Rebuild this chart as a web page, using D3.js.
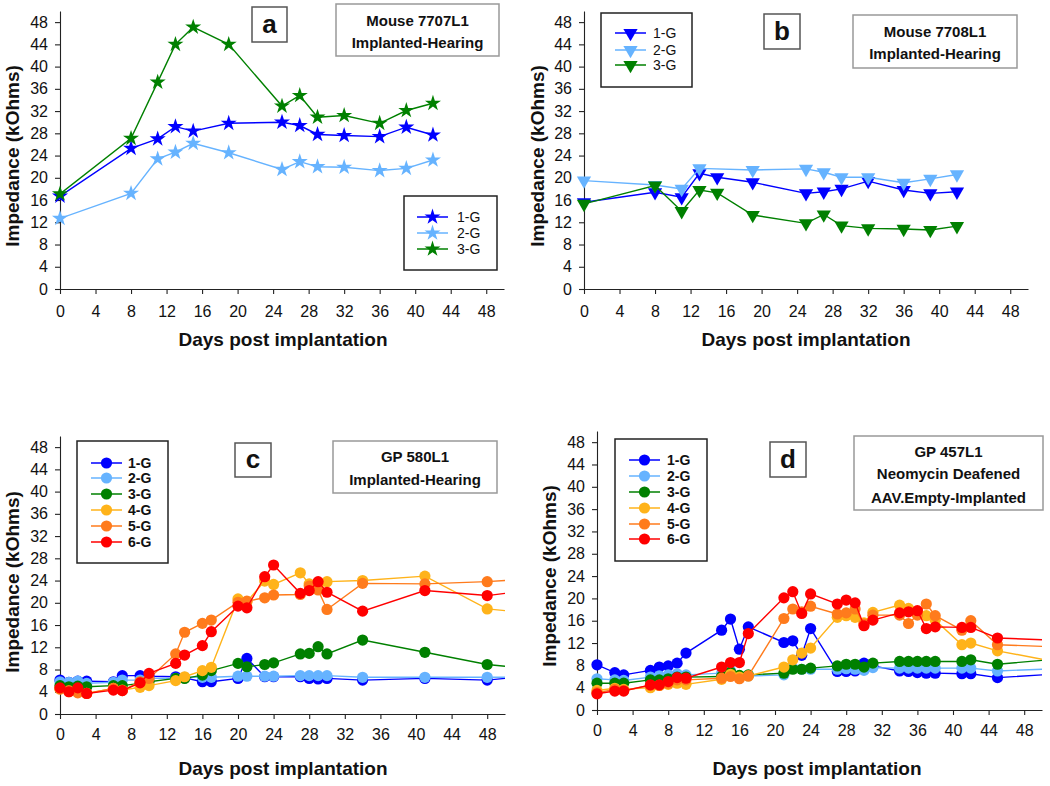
<!DOCTYPE html>
<html><head><meta charset="utf-8">
<script src="https://cdn.jsdelivr.net/npm/d3@7"></script>
<style>
body{margin:0;background:#fff}
svg{display:block;font-family:"Liberation Sans",Arial,sans-serif}
</style>
</head><body>
<svg id="chart" width="1050" height="786"></svg>
<script>
// ---------- data ----------
const seriesNames = ["1-G","2-G","3-G","4-G","5-G","6-G"];
const seriesColors = ["#0000ff","#66b3ff","#008000","#ffb31a","#ff7b1c","#ff0000"];
const xTicks = [0,4,8,12,16,20,24,28,32,36,40,44,48];
const yTicks = [0,4,8,12,16,20,24,28,32,36,40,44,48];
const xTitle = "Days post implantation";
const yTitle = "Impedance (kOhms)";

// Panel a: Mouse 7707L1
const daysA = [0,8,11,13,15,19,25,27,29,32,36,39,42];
const a1G = [16.7,25.3,27.0,29.2,28.4,29.8,30.0,29.4,27.8,27.6,27.4,29.1,27.7];
const a2G = [12.7,17.2,23.4,24.6,26.2,24.5,21.5,22.9,22.0,21.9,21.3,21.7,23.2];
const a3G = [17.1,27.1,37.2,44.0,47.1,44.0,32.9,34.8,30.9,31.2,29.8,32.1,33.4];

// Panel b: Mouse 7708L1
const daysB = [0,8,11,13,15,19,25,27,29,32,36,39,42];
const b1G = [15.6,17.4,16.5,20.8,20.1,19.2,17.2,17.5,18.0,19.4,17.8,17.2,17.5];
const b2G = [19.5,18.7,18.0,21.7,null,21.4,21.6,21.0,20.1,20.1,19.1,19.8,20.6];
const b3G = [15.3,18.6,14.0,17.8,17.3,13.3,11.8,13.4,11.4,10.9,10.8,10.6,11.3];

// Panel c: GP 580L1
const daysC = [0,1,2,3,6,7,9,10,13,14,16,17,20,21,23,24,27,28,29,30,34,41,48];
const c1G = [6.1,5.7,5.9,5.9,5.8,6.9,6.9,6.8,6.7,6.5,5.8,5.8,6.4,10.0,6.7,6.7,6.7,6.4,6.3,6.4,6.1,6.4,6.1];
const c2G = [5.8,5.7,5.9,5.5,5.7,6.1,6.1,6.4,6.4,6.6,6.6,6.6,6.8,6.8,6.8,6.8,6.9,6.9,6.9,6.9,6.6,6.6,6.6];
const c3G = [5.1,4.9,5.0,4.9,5.1,5.1,5.5,5.8,6.4,6.4,7.0,7.8,9.1,8.5,8.9,9.2,10.8,10.9,12.1,10.8,13.3,11.1,8.9];
const c4G = [4.5,4.0,4.0,3.7,4.6,4.3,4.8,5.1,6.0,6.7,7.8,8.4,20.7,20.2,23.9,23.3,25.4,23.4,22.8,23.8,24.0,24.8,18.9];
const c5G = [4.5,4.2,3.8,3.7,4.6,4.2,5.8,6.4,10.8,14.7,16.3,16.9,20.1,20.3,20.9,21.4,21.5,23.0,22.3,18.8,23.5,23.4,23.8];
const c6G = [4.7,4.0,4.7,3.7,4.3,4.2,5.6,7.3,9.1,10.6,12.3,14.8,19.4,19.1,24.7,26.8,21.7,22.2,23.8,21.9,18.5,22.2,21.3];
const cEdge = [6.4,6.6,8.6,18.6,24.0,21.7]; // where each line leaves the plot at day 50

// Panel d: GP 457L1
const daysD = [0,2,3,6,7,8,9,10,14,15,16,17,21,22,23,24,27,28,29,30,31,34,35,36,37,38,41,42,45];
const d1G = [8.1,6.7,6.3,7.1,7.7,7.9,8.4,10.2,14.3,16.3,10.9,14.9,12.1,12.4,9.8,14.6,6.9,6.9,7.0,8.4,7.9,7.0,6.9,6.7,6.6,6.6,6.5,6.5,5.8];
const d2G = [5.6,5.4,5.3,5.9,6.1,6.3,6.5,6.3,6.6,7.1,6.1,6.1,6.3,7.5,7.3,7.3,7.3,7.4,7.3,7.1,7.6,7.5,7.5,7.5,7.5,7.5,7.5,7.5,7.0];
const d3G = [4.8,4.8,4.8,5.4,5.4,5.6,5.9,5.9,6.0,6.8,6.2,6.3,6.6,7.3,7.3,7.5,7.9,8.2,8.2,7.7,8.4,8.7,8.7,8.7,8.7,8.7,8.7,9.0,8.2];
const d4G = [3.5,3.9,3.7,4.0,4.4,4.6,4.8,4.6,5.5,6.4,5.9,6.1,7.7,9.0,10.2,11.1,16.6,16.9,16.6,15.6,17.5,18.8,18.2,17.3,16.9,16.1,11.7,12.0,10.6];
const d5G = [3.1,3.7,3.5,4.4,4.4,4.8,5.4,5.4,5.7,6.0,5.6,6.1,16.4,18.1,17.6,18.6,17.2,17.4,18.1,15.4,17.0,17.0,15.5,17.0,19.0,16.9,14.3,16.0,11.7];
const d6G = [2.9,3.4,3.4,4.5,4.5,5.1,5.8,5.7,7.7,8.5,8.5,13.7,20.1,21.2,17.3,20.8,19.0,19.7,19.2,15.1,16.1,17.4,17.6,17.8,14.6,14.9,14.8,14.8,12.9];
const dEdge = [6.3,7.3,8.9,9.1,11.4,12.6];

// ---------- layout ----------
const panels = [
  {key:"a", x0:60, x1:504, yb:289, yt:11, xpad:12, days:daysA, series:[a1G,a2G,a3G], edge:null, marker:"star",
   letter:{x:252,y:7,w:35,h:35}, title:{x:336,y:4,w:163,h:52,lines:["Mouse 7707L1","Implanted-Hearing"],ly:[21,43]},
   legend:{x:404,y:196,w:93,h:74,rowY:[217,233,249],lx:417,tx:457,bold:false},
   xTitleX:283, xTitleY:346, yTitleX:19, yTitleY:156},
  {key:"b", x0:584, x1:1028, yb:289, yt:11, xpad:12, days:daysB, series:[b1G,b2G,b3G], edge:null, marker:"tri",
   letter:{x:764,y:14,w:36,h:35}, title:{x:853,y:15,w:164,h:53,lines:["Mouse 7708L1","Implanted-Hearing"],ly:[32,54]},
   legend:{x:601,y:13,w:91,h:74,rowY:[33,50,65],lx:615,tx:653,bold:false},
   xTitleX:806, xTitleY:346, yTitleX:544, yTitleY:156},
  {key:"c", x0:60, x1:505, yb:714, yt:436, xpad:10, days:daysC, series:[c1G,c2G,c3G,c4G,c5G,c6G], edge:cEdge, marker:"circle",
   letter:{x:235,y:443,w:36,h:34}, title:{x:333,y:441,w:164,h:52,lines:["GP 580L1","Implanted-Hearing"],ly:[457,480]},
   legend:{x:77,y:441,w:91,h:122,rowY:[463,478,494,510,526,542],lx:91,tx:128,bold:true},
   xTitleX:283, xTitleY:775, yTitleX:19, yTitleY:582},
  {key:"d", x0:597, x1:1042, yb:710, yt:431, xpad:10, days:daysD, series:[d1G,d2G,d3G,d4G,d5G,d6G], edge:dEdge, marker:"circle",
   letter:{x:770,y:442,w:36,h:35}, title:{x:854,y:436,w:189,h:74,lines:["GP 457L1","Neomycin Deafened","AAV.Empty-Implanted"],ly:[452,474,498]},
   legend:{x:615,y:439,w:92,h:122,rowY:[460,476,492,508,524,539],lx:629,tx:667,bold:true},
   xTitleX:817, xTitleY:775, yTitleX:556, yTitleY:576}
];

const svg = d3.select("#chart");

function markerPath(kind){
  if(kind==="star") return d3.symbol(d3.symbolStar, 80)();
  if(kind==="tri") return d3.symbol(d3.symbolTriangle, 88)();
  return d3.symbol(d3.symbolCircle, Math.PI*5.6*5.6)();
}
function markerTransform(kind, px, py){
  return kind==="tri" ? `translate(${px},${py}) rotate(180)` : `translate(${px},${py})`;
}

panels.forEach((p, pi) => {
  const g = svg.append("g");
  const x = d3.scaleLinear().domain([0,50]).range([p.x0,p.x1]);
  const y = d3.scaleLinear().domain([0,50]).range([p.yb,p.yt]);

  // axes
  const gx = g.append("g").attr("transform",`translate(0,${p.yb})`)
    .call(d3.axisBottom(x).tickValues(xTicks).tickSize(5).tickSizeOuter(0).tickPadding(p.xpad));
  const gy = g.append("g").attr("transform",`translate(${p.x0},0)`)
    .call(d3.axisLeft(y).tickValues(yTicks).tickSize(5).tickSizeOuter(0).tickPadding(7));
  [gx,gy].forEach(ax => {
    ax.attr("font-family",null).attr("font-size",null);
    ax.selectAll("text").attr("font-size","16px").attr("fill","#111");
    ax.selectAll("path,line").attr("stroke","#222").attr("stroke-width",1.1);
  });

  // titles
  g.append("text").attr("x",p.xTitleX).attr("y",p.xTitleY).attr("text-anchor","middle")
    .attr("font-size","19px").attr("font-weight","bold").attr("fill","#111").text(xTitle);
  g.append("text").attr("transform",`translate(${p.yTitleX},${p.yTitleY}) rotate(-90)`).attr("text-anchor","middle")
    .attr("font-size","19px").attr("font-weight","bold").attr("fill","#111").text(yTitle);

  // clip
  const cid = "clip"+p.key;
  svg.append("clipPath").attr("id",cid).append("rect")
    .attr("x",p.x0).attr("y",p.yt-10).attr("width",p.x1-p.x0).attr("height",p.yb-p.yt+10);

  const line = d3.line().x(d=>x(d.d)).y(d=>y(d.v));
  const plot = g.append("g");
  p.series.forEach((vals,i) => {
    const pts = p.days.map((d,j)=>({d, v: vals[j]})).filter(o => o.v !== null);
    const lpts = p.edge ? pts.concat([{d:50, v:p.edge[i]}]) : pts;
    plot.append("path").datum(lpts).attr("d",line).attr("fill","none")
      .attr("stroke",seriesColors[i]).attr("stroke-width",1.4).attr("clip-path",`url(#${cid})`);
    plot.append("g").selectAll("path").data(pts).join("path")
      .attr("d",markerPath(p.marker))
      .attr("transform",d=>markerTransform(p.marker,x(d.d),y(d.v)))
      .attr("fill",seriesColors[i]);
  });

  // letter box
  g.append("rect").attr("x",p.letter.x).attr("y",p.letter.y).attr("width",p.letter.w).attr("height",p.letter.h)
    .attr("fill","#fff").attr("stroke","#555").attr("stroke-width",1.5);
  g.append("text").attr("x",p.letter.x+p.letter.w/2).attr("y",p.letter.y+p.letter.h/2+8)
    .attr("text-anchor","middle").attr("font-size","26px").attr("font-weight","bold").attr("fill","#111").text(p.key);

  // title box
  g.append("rect").attr("x",p.title.x).attr("y",p.title.y).attr("width",p.title.w).attr("height",p.title.h)
    .attr("fill","#fff").attr("stroke","#999").attr("stroke-width",1.5);
  p.title.lines.forEach((t,k)=>{
    g.append("text").attr("x",p.title.x+p.title.w/2).attr("y",p.title.ly[k]+5)
      .attr("text-anchor","middle").attr("font-size","15px").attr("font-weight","bold").attr("fill","#111").text(t);
  });

  // legend
  const L = p.legend;
  g.append("rect").attr("x",L.x).attr("y",L.y).attr("width",L.w).attr("height",L.h)
    .attr("fill","#fff").attr("stroke","#222").attr("stroke-width",1.5);
  p.series.forEach((vals,i)=>{
    const ry = L.rowY[i];
    g.append("line").attr("x1",L.lx).attr("x2",L.lx+31).attr("y1",ry).attr("y2",ry)
      .attr("stroke",seriesColors[i]).attr("stroke-width",1.5);
    g.append("path").attr("d",markerPath(p.marker)).attr("transform",markerTransform(p.marker,L.lx+15.5,ry))
      .attr("fill",seriesColors[i]);
    g.append("text").attr("x",L.tx).attr("y",ry+5).attr("font-size","14px")
      .attr("font-weight",L.bold?"bold":"normal").attr("fill","#111").text(seriesNames[i]);
  });
});
</script>
</body></html>
